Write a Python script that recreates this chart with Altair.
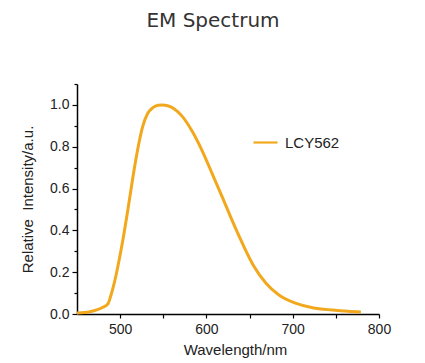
import altair as alt
import pandas as pd

# Emission spectrum
wavelength = [450, 465, 480, 486, 489, 493, 497, 503, 509, 515, 520, 526, 532, 538,
              544, 549, 555, 562, 572, 584, 596, 607, 619, 630, 642, 655, 669, 684,
              704, 723, 746, 764, 779]
intensity = [0.005, 0.011, 0.032, 0.050, 0.085, 0.145, 0.220, 0.350, 0.500, 0.660,
             0.780, 0.895, 0.960, 0.987, 0.998, 1.000, 0.996, 0.983, 0.945, 0.870,
             0.772, 0.668, 0.553, 0.445, 0.335, 0.228, 0.147, 0.091, 0.051, 0.030,
             0.019, 0.013, 0.010]
series_name = "LCY562"

x_ticks = [500, 550, 600, 650, 700, 750, 800]
y_ticks = [0.0, 0.1, 0.2, 0.3, 0.4, 0.5, 0.6, 0.7, 0.8, 0.9, 1.0, 1.1]

df = pd.DataFrame({
    "wavelength": wavelength,
    "intensity": intensity,
    "series": [series_name] * len(wavelength),
})

FONT = "Liberation Sans"
LINE_COLOR = "#F2A81D"
TEXT_COLOR = "#222222"

chart = alt.Chart(df).mark_line(strokeWidth=3, interpolate="monotone").encode(
    x=alt.X(
        "wavelength:Q",
        scale=alt.Scale(domain=[450, 800], nice=False, zero=False),
        axis=alt.Axis(
            values=x_ticks,
            labelExpr="datum.value % 100 == 0 ? datum.label : ''",
            title="Wavelength/nm",
            grid=False,
            domainColor="#000000",
            domainWidth=1.5,
            tickColor="#000000",
            tickWidth=1.2,
            tickSize=4,
            labelFont=FONT,
            labelFontSize=14,
            labelColor=TEXT_COLOR,
            labelPadding=4,
            labelOverlap=False,
            labelFlush=False,
            titleFont=FONT,
            titleFontSize=15,
            titleFontWeight="normal",
            titleColor=TEXT_COLOR,
            titlePadding=6,
            titleX=158,
        ),
    ),
    y=alt.Y(
        "intensity:Q",
        scale=alt.Scale(domain=[0, 1.1], nice=False),
        axis=alt.Axis(
            values=y_ticks,
            format=".1f",
            labelExpr="(round(datum.value * 10) % 2 == 0 && datum.value < 1.05) ? datum.label : ''",
            title="Relative\u00a0\u00a0Intensity/a.u.",
            grid=False,
            domainColor="#000000",
            domainWidth=1.5,
            tickColor="#000000",
            tickWidth=1.2,
            tickSize={"condition": {"test": "round(datum.value * 10) % 2 == 0", "value": 5}, "value": 3},
            labelFont=FONT,
            labelFontSize=14,
            labelColor=TEXT_COLOR,
            labelPadding=3,
            labelOverlap=False,
            labelFlush=False,
            titleFont=FONT,
            titleFontSize=15,
            titleFontWeight="normal",
            titleColor=TEXT_COLOR,
            titlePadding=14,
        ),
    ),
    color=alt.Color(
        "series:N",
        scale=alt.Scale(range=[LINE_COLOR]),
        legend=alt.Legend(
            title=None,
            orient="none",
            legendX=175,
            legendY=45,
            padding=0,
            symbolType="stroke",
            symbolSize=576,
            symbolStrokeWidth=2.2,
            labelFont=FONT,
            labelFontSize=15,
            labelColor=TEXT_COLOR,
            labelOffset=6,
        ),
    ),
).properties(
    width=302,
    height=230,
    autosize="none",
    padding={"left": 69, "top": 76, "right": 38, "bottom": 47},
    title=alt.TitleParams(
        text="EM Spectrum",
        anchor="middle",
        frame="group",
        font="DejaVu Sans",
        fontSize=20,
        fontWeight="normal",
        color="#333333",
        offset=46,
        dx=-15,
    ),
).configure_view(stroke=None)

chart.save("out.html", embed_options={"renderer": "svg", "actions": False})
